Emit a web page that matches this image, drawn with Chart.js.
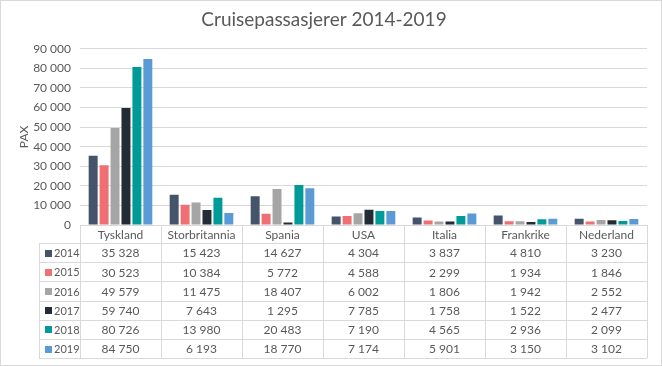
<!DOCTYPE html>
<html>
<head>
<meta charset="utf-8">
<script src="https://cdn.jsdelivr.net/npm/chart.js@4/dist/chart.umd.min.js"></script>
<style>
  html, body { margin: 0; padding: 0; background: #fff; }
  #wrap { width: 662px; height: 366px; position: relative; box-sizing: border-box; border: 1px solid #d9d9d9; }
</style>
</head>
<body>
<div id="wrap"><canvas id="chart" width="660" height="364"></canvas></div>
<script>
const countries = ['Tyskland', 'Storbritannia', 'Spania', 'USA', 'Italia', 'Frankrike', 'Nederland'];
const years = ['2014', '2015', '2016', '2017', '2018', '2019'];
const pax2014 = [35328, 15423, 14627, 4304, 3837, 4810, 3230];
const pax2015 = [30523, 10384, 5772, 4588, 2299, 1934, 1846];
const pax2016 = [49579, 11475, 18407, 6002, 1806, 1942, 2552];
const pax2017 = [59740, 7643, 1295, 7785, 1758, 1522, 2477];
const pax2018 = [80726, 13980, 20483, 7190, 4565, 2936, 2099];
const pax2019 = [84750, 6193, 18770, 7174, 5901, 3150, 3102];
const yTicks = [0, 10000, 20000, 30000, 40000, 50000, 60000, 70000, 80000, 90000];

const seriesValues = [pax2014, pax2015, pax2016, pax2017, pax2018, pax2019];
const seriesColors = ['#44546a', '#ef6f73', '#a5a5a5', '#232b36', '#009b98', '#5b9bd5'];

const FONT = 'Lato, "Noto Sans", sans-serif';
const TEXT = '#595959';
const LINE = '#d9d9d9';

function fmt(n) {
    return String(n).replace(/\B(?=(\d{3})+(?!\d))/g, ' ');
}

// Excel-style data table under the plot, aligned to the category scale
const dataTable = {
    id: 'dataTable',
    afterDraw(chart) {
        const ctx = chart.ctx;
        const x = chart.scales.x;
        const area = chart.chartArea;
        const colW = (area.right - area.left) / countries.length;
        const top = area.bottom;
        const headH = 18;
        const rowH = 19.2;
        const legLeft = 38;
        const bottom = top + headH + rowH * years.length;

        ctx.save();
        ctx.strokeStyle = LINE;
        ctx.lineWidth = 1;
        ctx.beginPath();
        // horizontal lines
        for (let r = 0; r <= years.length; r++) {
            const y = Math.round(top + headH + r * rowH) + 0.5;
            ctx.moveTo(legLeft, y);
            ctx.lineTo(area.right, y);
        }
        // vertical lines
        for (let c = 0; c <= countries.length; c++) {
            const xx = Math.round(area.left + c * colW) + 0.5;
            ctx.moveTo(xx, top);
            ctx.lineTo(xx, bottom);
        }
        ctx.moveTo(legLeft + 0.5, top + headH);
        ctx.lineTo(legLeft + 0.5, bottom);
        ctx.stroke();

        ctx.fillStyle = TEXT;
        ctx.font = '12px ' + FONT;
        ctx.textAlign = 'center';
        ctx.textBaseline = 'middle';
        countries.forEach((name, i) => {
            ctx.fillText(name, x.getPixelForValue(i), top + headH / 2 + 1);
        });
        years.forEach((yr, r) => {
            const cy = top + headH + r * rowH + rowH / 2 + 1;
            ctx.font = '12px ' + FONT;
            seriesValues[r].forEach((v, i) => {
                ctx.fillStyle = TEXT;
                ctx.textAlign = 'center';
                ctx.fillText(fmt(v), x.getPixelForValue(i), cy);
            });
            ctx.fillStyle = seriesColors[r];
            ctx.fillRect(legLeft + 6, Math.round(cy - 4), 7, 7);
            ctx.fillStyle = TEXT;
            ctx.textAlign = 'left';
            ctx.font = '11px ' + FONT;
            ctx.fillText(yr, legLeft + 15, cy);
        });
        ctx.restore();
    }
};

new Chart(document.getElementById('chart'), {
    type: 'bar',
    data: {
        labels: countries,
        datasets: years.map((yr, i) => ({
            label: yr,
            data: seriesValues[i],
            backgroundColor: seriesColors[i],
            categoryPercentage: 0.81,
            barPercentage: 0.82
        }))
    },
    options: {
        responsive: false,
        animation: false,
        layout: { padding: { left: 0, right: 14, top: 0, bottom: 140 } },
        plugins: {
            legend: { display: false },
            tooltip: { enabled: false },
            title: {
                display: true,
                text: 'Cruisepassasjerer 2014-2019',
                color: TEXT,
                font: { family: FONT, size: 19, weight: 'normal' },
                padding: { top: 7, bottom: 18 }
            }
        },
        scales: {
            x: { display: false },
            y: {
                min: 0,
                max: 90000,
                afterBuildTicks(scale) {
                    scale.ticks = yTicks.map(v => ({ value: v }));
                },
                afterFit(scale) { scale.width = 79; },
                grid: { color: LINE, drawTicks: false },
                border: { display: false },
                ticks: {
                    color: TEXT,
                    font: { family: FONT, size: 12 },
                    padding: 9,
                    callback: v => fmt(v)
                },
                title: {
                    display: true,
                    text: 'PAX',
                    color: TEXT,
                    font: { family: FONT, size: 12 },
                    padding: { top: 16, bottom: 0 }
                }
            }
        }
    },
    plugins: [dataTable]
});
</script>
</body>
</html>
